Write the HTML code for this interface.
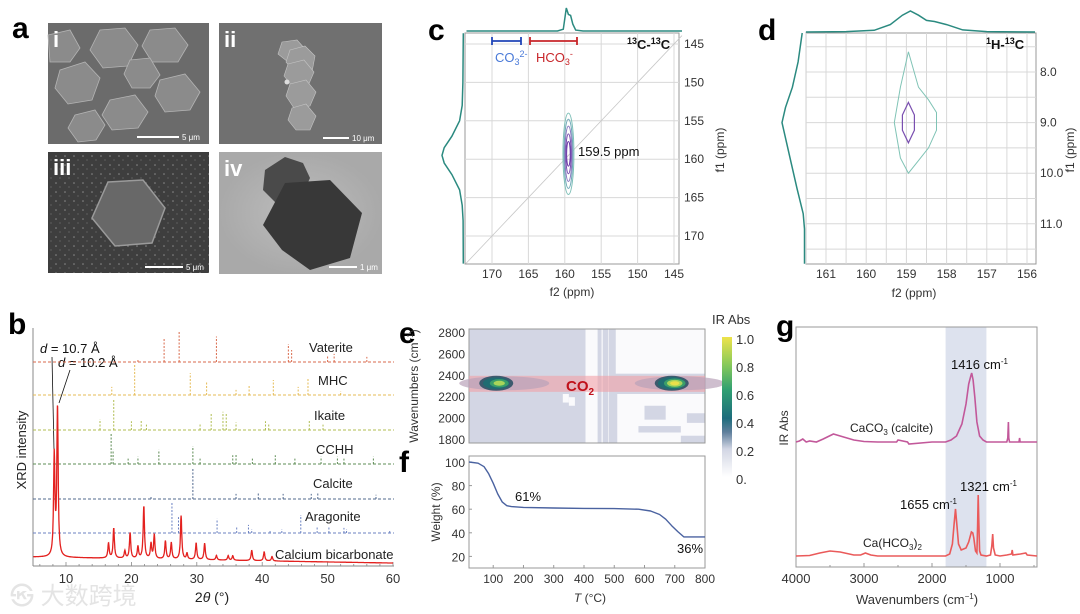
<!DOCTYPE html>
<html><head><meta charset="utf-8">
<style>
html,body{margin:0;padding:0;background:#fff;}
svg{display:block;font-family:"Liberation Sans","Noto Sans CJK SC",sans-serif;}
</style></head>
<body>
<svg id="fig" width="1080" height="614" viewBox="0 0 1080 614" xmlns="http://www.w3.org/2000/svg">
<defs>
  <linearGradient id="cbar" x1="0" y1="1" x2="0" y2="0">
    <stop offset="0" stop-color="#ffffff"/>
    <stop offset="0.2" stop-color="#d2d6e4"/>
    <stop offset="0.32" stop-color="#5f7f9c"/>
    <stop offset="0.42" stop-color="#1d6c7c"/>
    <stop offset="0.62" stop-color="#2f9f72"/>
    <stop offset="0.8" stop-color="#86c95a"/>
    <stop offset="1" stop-color="#eee34a"/>
  </linearGradient>
  <pattern id="speck" width="9" height="9" patternUnits="userSpaceOnUse">
    <rect width="9" height="9" fill="#3e3e3e"/>
    <circle cx="2" cy="3" r="0.8" fill="#8a8a8a"/>
    <circle cx="6" cy="7" r="0.6" fill="#777"/>
  </pattern>
  <radialGradient id="ivbg"><stop offset="0" stop-color="#bdbdbd"/><stop offset="1" stop-color="#a9a9a9"/></radialGradient>
</defs>

<!-- Panel a -->
<g>
  <text x="12" y="38" font-size="30" font-weight="bold">a</text>
  <g>
    <rect x="48" y="23" width="161" height="121" fill="#6b6b6b"/>
    <g fill="#8b8b8b" stroke="#b4b4b4" stroke-width="0.8">
      <polygon points="100,30 125,28 138,45 128,66 103,68 90,50"/>
      <polygon points="60,70 85,62 100,78 92,100 68,104 55,88"/>
      <polygon points="110,100 135,95 148,112 138,128 112,130 102,115"/>
      <polygon points="150,30 175,28 188,45 178,62 152,62 142,46"/>
      <polygon points="160,80 185,74 200,92 190,110 165,112 155,96"/>
      <polygon points="75,115 95,110 105,125 96,140 78,142 68,128"/>
      <polygon points="130,60 150,58 160,75 150,88 132,88 124,74"/>
      <polygon points="48,35 70,30 80,48 70,62 50,62"/>
    </g>
    <text x="53" y="47" font-size="22" font-weight="bold" fill="#fff">i</text>
    <rect x="137" y="136" width="42" height="2" fill="#fff"/>
    <text x="182" y="140" font-size="8" fill="#fff">5 μm</text>
  </g>
  <g>
    <rect x="219" y="23" width="163" height="121" fill="#707070"/>
    <g fill="#9b9b9b" stroke="#c4c4c4" stroke-width="0.6">
      <polygon points="282,42 297,40 306,50 302,62 288,62 278,54"/>
      <polygon points="290,50 305,46 315,56 312,72 296,74 286,62"/>
      <polygon points="288,64 304,60 314,72 308,86 292,86 284,76"/>
      <polygon points="290,84 306,80 316,92 310,106 294,108 286,96"/>
      <polygon points="292,108 306,104 316,116 310,130 296,130 288,120"/>
    </g>
    <circle cx="287" cy="82" r="2.5" fill="#ddd"/>
    <text x="224" y="47" font-size="22" font-weight="bold" fill="#fff">ii</text>
    <rect x="323" y="137" width="26" height="2" fill="#fff"/>
    <text x="352" y="141" font-size="8" fill="#fff">10 μm</text>
  </g>
  <g>
    <rect x="48" y="152" width="161" height="121" fill="url(#speck)"/>
    <polygon points="108,182 143,180 165,208 152,243 115,246 92,218" fill="#686868" stroke="#9a9a9a" stroke-width="1.5"/>
    <text x="53" y="175" font-size="22" font-weight="bold" fill="#fff">iii</text>
    <rect x="145" y="266" width="38" height="2" fill="#fff"/>
    <text x="186" y="270" font-size="8" fill="#fff">5 μm</text>
  </g>
  <g>
    <rect x="219" y="152" width="163" height="122" fill="url(#ivbg)"/>
    <polygon points="285,157 303,163 310,178 300,200 277,204 263,190 265,170" fill="#4a4a4a"/>
    <polygon points="285,183 330,180 362,213 350,258 310,270 282,250 263,225" fill="#383838"/>
    <text x="224" y="176" font-size="22" font-weight="bold" fill="#fff">iv</text>
    <rect x="329" y="266" width="28" height="2" fill="#fff"/>
    <text x="360" y="270" font-size="8" fill="#fff">1 μm</text>
  </g>
</g>

<!-- Panel b -->
<g id="pb">
  <text x="8" y="334" font-size="30" font-weight="bold">b</text>
  <text transform="translate(26,450) rotate(-90)" font-size="13" text-anchor="middle" fill="#222">XRD intensity</text>
  <text x="212" y="602" font-size="14" text-anchor="middle" fill="#222">2<tspan font-style="italic">θ</tspan> (°)</text>
  <text x="40" y="353" font-size="13" fill="#111"><tspan font-style="italic">d</tspan> = 10.7 Å</text>
  <text x="58" y="367" font-size="13" fill="#111"><tspan font-style="italic">d</tspan> = 10.2 Å</text>
  <line x1="52" y1="357" x2="54" y2="450" stroke="#111" stroke-width="0.8"/>
  <line x1="70" y1="370" x2="59" y2="403" stroke="#111" stroke-width="0.8"/>
</g>

<!-- Panel c -->
<g id="pc">
  <text x="428" y="40" font-size="30" font-weight="bold">c</text>
</g>
<!-- Panel d -->
<g id="pd">
  <text x="758" y="40" font-size="30" font-weight="bold">d</text>
</g>
<!-- Panel e -->
<g id="pe">
  <text x="399" y="343" font-size="30" font-weight="bold">e</text>
</g>
<!-- Panel f -->
<g id="pf">
  <text x="399" y="472" font-size="30" font-weight="bold">f</text>
</g>
<!-- Panel g -->
<g id="pg">
  <text x="776" y="336" font-size="30" font-weight="bold">g</text>
</g>

<text x="10" y="604" font-size="24" fill="#e4e4e4">㉿ 大数跨境</text>
</svg>

<script>
// ---------- DATA ----------
// b: XRD
const bicarbPos = [8.2, 8.7, 16.5, 17.3, 19.0, 19.8, 21.0, 21.9, 23.0, 23.5, 25.2, 26.1, 27.6, 28.5, 29.9, 31.2, 33.0, 34.8, 35.5, 38.4, 40.3, 41.5];
const bicarbInt = [67, 100, 10, 20, 5, 17, 8, 35, 10, 16, 12, 11, 29, 4, 11, 11, 3, 3, 3, 7, 6, 3];
const refNames = ["Vaterite", "MHC", "Ikaite", "CCHH", "Calcite", "Aragonite"];
const vateritePos = [21, 25, 27.3, 33, 44, 44.5, 50, 51, 56];
const vateriteInt = [10, 77, 100, 85, 60, 40, 20, 27, 17];
const mhcPos = [17, 20.5, 29, 31.5, 36, 38, 41.7, 45.5, 47, 52];
const mhcInt = [27, 100, 73, 43, 17, 33, 50, 27, 57, 13];
const ikaitePos = [15.2, 17.3, 20, 21.5, 22.3, 30.5, 32.2, 34, 34.5, 36, 40.5, 41, 47.2, 49.3];
const ikaiteInt = [36, 100, 29, 32, 18, 21, 57, 61, 54, 25, 29, 21, 32, 18];
const cchhPos = [16.9, 17.2, 19.5, 21, 24.2, 29.4, 30.5, 35.5, 36, 38.5, 42, 45, 49, 51.5, 52.5, 57];
const cchhInt = [100, 47, 18, 24, 47, 59, 18, 29, 35, 18, 29, 18, 24, 24, 18, 24];
const calcitePos = [23, 29.4, 36, 39.4, 43.2, 47.5, 48.5, 57.4];
const calciteInt = [10, 100, 17, 21, 17, 17, 21, 14];
const aragonitePos = [26.2, 27.2, 33.1, 36.1, 37.9, 38.4, 41.2, 43, 45.9, 48.4, 50.2, 52.5, 52.9, 59.5];
const aragoniteInt = [100, 53, 47, 20, 27, 13, 10, 13, 60, 20, 23, 17, 13, 10];
const xrdTicks = [10, 20, 30, 40, 50, 60];

// c: 13C-13C
const cTopPpm = [173.5, 165, 161, 160.2, 159.8, 159.5, 159.2, 158.9, 158.5, 157.5, 143.9];
const cTopInt = [0, 0, 0, 0.08, 1.0, 0.72, 0.68, 0.3, 0.04, 0, 0];
const cLeftPpm = [143.6, 150, 153, 155, 157, 158.5, 159.5, 160.5, 162, 164, 166, 168, 173.6];
const cLeftInt = [0.03, 0.05, 0.08, 0.2, 0.55, 0.9, 1.0, 0.9, 0.55, 0.2, 0.08, 0.04, 0.03];
const cContourRx = [0.75, 0.6, 0.48, 0.36, 0.25];
const cContourRy = [5.3, 4.5, 3.6, 2.6, 1.6];
const cTicks = [170, 165, 160, 155, 150, 145];

// d: 1H-13C
const dTopPpm = [161.5, 160.5, 159.8, 159.4, 159.1, 158.9, 158.7, 158.5, 158.3, 158.0, 157.6, 157, 155.8];
const dTopInt = [0, 0.02, 0.08, 0.35, 0.8, 1.0, 0.8, 0.55, 0.5, 0.35, 0.1, 0.02, 0];
const dLeftPpm = [7.23, 7.8, 8.3, 8.7, 9.0, 9.4, 9.8, 10.3, 10.8, 11.1, 11.79];
const dLeftInt = [0.12, 0.3, 0.55, 0.85, 1.0, 0.8, 0.6, 0.35, 0.08, 0.02, 0.02];
const dOuterF2 = [158.95, 159.15, 159.3, 159.15, 158.95, 158.7, 158.45, 158.25, 158.25, 158.45, 158.7];
const dOuterF1 = [7.6, 8.3, 9.0, 9.7, 10.0, 9.75, 9.5, 9.15, 8.8, 8.55, 8.3];
const dInnerF2 = [158.95, 159.1, 159.1, 158.95, 158.8, 158.8];
const dInnerF1 = [8.6, 8.85, 9.15, 9.4, 9.15, 8.85];
const dXTicks = [161, 160, 159, 158, 157, 156];
const dYTicks = [8.0, 9.0, 10.0, 11.0];

// e: heatmap
const eYTicks = [2800, 2600, 2400, 2200, 2000, 1800];
const blobT = [110, 690];
const blobIntensity = [0.8, 1.0];
const cbarTicks = ["1.0", "0.8", "0.6", "0.4", "0.2", "0."];

// f: TGA
const tgaT = [20, 50, 70, 85, 100, 115, 130, 145, 160, 200, 300, 400, 500, 580, 620, 650, 670, 690, 710, 730, 800];
const tgaW = [100, 99, 96, 90, 82, 73, 66, 63, 62.2, 61.5, 61, 60.7, 60.5, 60, 58.5, 55.5, 51.5, 46, 41, 36.5, 36.5];
const fXTicks = [100, 200, 300, 400, 500, 600, 700, 800];
const fYTicks = [100, 80, 60, 40, 20];

// g: IR
const calciteWn = [4000, 3950, 3900, 3850, 3800, 3700, 3600, 3450, 3300, 3150, 3000, 2800, 2520, 2500, 2360, 2340, 2000, 1800, 1720, 1640, 1560, 1500, 1460, 1430, 1416, 1395, 1370, 1340, 1300, 1250, 1200, 1000, 900, 885, 877, 870, 860, 720, 712, 705, 456];
const calciteAbs = [0, 1, 3, 0, 1, 0, 3, 8, 5, 2, 0.5, 0, 0, 2, 0, -2, 0, 0, 2, 6, 18, 38, 58, 66, 69, 62, 45, 20, 6, 2, 0, 0, 0, 4, 20, 4, 0, 0, 4, 0, 0];
const bicarbWn = [4000, 3800, 3650, 3500, 3350, 3150, 3050, 2980, 2900, 2800, 1800, 1740, 1700, 1675, 1655, 1635, 1610, 1570, 1500, 1460, 1420, 1400, 1385, 1360, 1340, 1330, 1321, 1312, 1300, 1280, 1200, 1140, 1120, 1108, 1095, 1070, 1000, 900, 830, 820, 810, 700, 620, 600, 456];
const bicarbAbs = [0, 0.5, 3, 5, 4, 1, 1, 3, 1, 0, 0, 2, 12, 32, 47, 32, 12, 6, 8, 14, 24, 23, 18, 5, 3, 30, 61, 35, 5, 1, 0, 1, 10, 22, 8, 1, 0, 1, 2, 6, 1, 2, 3, 1, 0];
const gXTicks = [4000, 3000, 2000, 1000];

// ---------- HELPERS ----------
const NS = "http://www.w3.org/2000/svg";
function mk(parent, tag, attrs) {
  const el = document.createElementNS(NS, tag);
  for (const k in attrs) el.setAttribute(k, attrs[k]);
  parent.appendChild(el);
  return el;
}
function txt(parent, x, y, s, attrs) {
  const el = mk(parent, "text", Object.assign({x: x, y: y}, attrs || {}));
  el.textContent = s;
  return el;
}
const TICKC = "#333";

// ---------- PANEL B ----------
(function () {
  const g = document.getElementById("pb");
  const xs = d => 66 + (d - 10) * 6.54;
  const X0 = 33, X1 = 394, YB = 566;
  mk(g, "line", {x1: X0, y1: YB, x2: X1, y2: YB, stroke: "#888", "stroke-width": 1});
  mk(g, "line", {x1: X0, y1: 328, x2: X0, y2: YB, stroke: "#888", "stroke-width": 1});
  for (let d = 6; d <= 60; d += 2) {
    mk(g, "line", {x1: xs(d), y1: YB, x2: xs(d), y2: YB - (d % 10 === 0 ? 4 : 2), stroke: "#888", "stroke-width": 0.8});
  }
  xrdTicks.forEach(t => {
    const el = txt(g, xs(t), 583, String(t), {"font-size": 13, "text-anchor": "middle", fill: TICKC});
    
    
  });
  const refs = [
    [vateritePos, vateriteInt, 362, "#d96a4c", 309, 352],
    [mhcPos, mhcInt, 395, "#e5bb55", 318, 385],
    [ikaitePos, ikaiteInt, 430, "#b0bd52", 314, 420],
    [cchhPos, cchhInt, 464, "#5e8c55", 316, 454],
    [calcitePos, calciteInt, 499, "#50688e", 313, 488],
    [aragonitePos, aragoniteInt, 533, "#6b82c2", 305, 521]
  ];
  refs.forEach((r, i) => {
    const grp = mk(g, "g", {});
    
    
    mk(grp, "line", {x1: X0, y1: r[2], x2: X1, y2: r[2], stroke: r[3], "stroke-width": 1, "stroke-dasharray": "3,2"});
    r[0].forEach((p, j) => {
      const h = r[1][j] * 0.3;
      const ln = mk(grp, "line", {x1: xs(p), y1: r[2], x2: xs(p), y2: r[2] - h, stroke: r[3], "stroke-width": 1, "stroke-dasharray": "2,1.5"});
      
      
    });
    const lab = txt(grp, r[4], r[5], refNames[i], {"font-size": 13, fill: "#222"});
    
    
  });
  // measured pattern
  let dstr = "";
  for (let d = 5; d <= 60.001; d += 0.04) {
    let y = 557 + (d - 5) * 0.11;
    for (let k = 0; k < bicarbPos.length; k++) {
      const w = 0.12;
      const u = (d - bicarbPos[k]) / w;
      y -= bicarbInt[k] * 1.5 / (1 + u * u);
    }
    dstr += (dstr ? "L" : "M") + xs(d).toFixed(1) + "," + y.toFixed(1);
  }
  const p = mk(g, "path", {d: dstr, fill: "none", stroke: "#e3211f", "stroke-width": 1.3});
  
  
  const lb = txt(g, 275, 559, "Calcium bicarbonate", {"font-size": 13, fill: "#222"});
  
  
})();

// ---------- PANEL C ----------
(function () {
  const g = document.getElementById("pc");
  const L = 465, R = 679, T = 33, B = 264;
  const xs = p => 492 + (170 - p) * 7.28;
  const ys = p => 44 + (p - 145) * 7.68;
  mk(g, "rect", {x: L, y: T, width: R - L, height: B - T, fill: "#fff", stroke: "#999", "stroke-width": 1});
  cTicks.forEach(t => {
    mk(g, "line", {x1: xs(t), y1: T, x2: xs(t), y2: B, stroke: "#d8d8d8", "stroke-width": 1});
    mk(g, "line", {x1: L, y1: ys(t), x2: R, y2: ys(t), stroke: "#d8d8d8", "stroke-width": 1});
    const a = txt(g, xs(t), 278, String(t), {"font-size": 12, "text-anchor": "middle", fill: TICKC});
    
    
    const b = txt(g, 684, ys(t) + 4, String(t), {"font-size": 12, fill: TICKC});
    
    
  });
  mk(g, "line", {x1: xs(173.6), y1: ys(173.6), x2: xs(143.9), y2: ys(143.9), stroke: "#c8c8c8", "stroke-width": 0.8});
  const xt = txt(g, 572, 296, "f2 (ppm)", {"font-size": 12, "text-anchor": "middle", fill: TICKC});
  
  
  const yt = txt(g, 0, 0, "f1 (ppm)", {"font-size": 12, "text-anchor": "middle", fill: TICKC, transform: "translate(724,150) rotate(-90)"});
  
  
  // projections
  let d = "";
  cTopPpm.forEach((p, i) => { d += (i ? "L" : "M") + xs(p).toFixed(1) + "," + (31 - cTopInt[i] * 23).toFixed(1); });
  const tp = mk(g, "path", {d: d, fill: "none", stroke: "#2b8a80", "stroke-width": 1.5});
  
  
  d = "";
  cLeftPpm.forEach((p, i) => { d += (i ? "L" : "M") + (464 - cLeftInt[i] * 22).toFixed(1) + "," + ys(p).toFixed(1); });
  const lp = mk(g, "path", {d: d, fill: "none", stroke: "#2b8a80", "stroke-width": 1.5});
  
  
  // contours
  const cols = ["#7fc0b8", "#6fa8b8", "#8a78c0", "#7a4fb0", "#6b3aa8"];
  cContourRx.forEach((rx, i) => {
    const e = mk(g, "ellipse", {cx: xs(159.5), cy: ys(159.3), rx: rx * 7.28, ry: cContourRy[i] * 7.68, fill: "none", stroke: cols[i], "stroke-width": 1});
    
    
  });
  const pk = txt(g, 578, 156, "159.5 ppm", {"font-size": 13, fill: "#111"});
  
  
  // bars
  mk(g, "path", {d: "M492,41H521M492,37V45M521,37V45", stroke: "#2146b8", "stroke-width": 1.8, fill: "none"});
  mk(g, "path", {d: "M530,41H577M530,37V45M577,37V45", stroke: "#c8262a", "stroke-width": 1.8, fill: "none"});
  const co3 = mk(g, "text", {x: 495, y: 62, "font-size": 13, fill: "#4a7ad8"});
  co3.innerHTML = 'CO<tspan font-size="9" dy="3">3</tspan><tspan font-size="9" dy="-8">2-</tspan>';
  
  
  const hco3 = mk(g, "text", {x: 536, y: 62, "font-size": 13, fill: "#c8262a"});
  hco3.innerHTML = 'HCO<tspan font-size="9" dy="3">3</tspan><tspan font-size="9" dy="-8">-</tspan>';
  
  
  const ti = mk(g, "text", {x: 627, y: 49, "font-size": 13, "font-weight": "bold", fill: "#111"});
  ti.innerHTML = '<tspan font-size="9" dy="-5">13</tspan><tspan dy="5">C-</tspan><tspan font-size="9" dy="-5">13</tspan><tspan dy="5">C</tspan>';
  
  
})();

// ---------- PANEL D ----------
(function () {
  const g = document.getElementById("pd");
  const L = 806, R = 1036, T = 33, B = 264;
  const xs = p => 826 + (161 - p) * 40.2;
  const ys = p => 72 + (p - 8) * 50.6;
  mk(g, "rect", {x: L, y: T, width: R - L, height: B - T, fill: "#fff", stroke: "#999", "stroke-width": 1});
  for (let p = 161.5; p >= 155.9; p -= 0.5) mk(g, "line", {x1: xs(p), y1: T, x2: xs(p), y2: B, stroke: "#d8d8d8", "stroke-width": 1});
  for (let p = 7.5; p <= 11.6; p += 0.5) mk(g, "line", {x1: L, y1: ys(p), x2: R, y2: ys(p), stroke: "#d8d8d8", "stroke-width": 1});
  dXTicks.forEach(t => {
    const a = txt(g, xs(t), 278, String(t), {"font-size": 12, "text-anchor": "middle", fill: TICKC});
    
    
  });
  dYTicks.forEach(t => {
    const b = txt(g, 1040, ys(t) + 4, t.toFixed(1), {"font-size": 12, fill: TICKC});
    
    
  });
  const xt = txt(g, 914, 297, "f2 (ppm)", {"font-size": 12, "text-anchor": "middle", fill: TICKC});
  
  
  const yt = txt(g, 0, 0, "f1 (ppm)", {"font-size": 12, "text-anchor": "middle", fill: TICKC, transform: "translate(1074,150) rotate(-90)"});
  
  
  let d = "";
  dTopPpm.forEach((p, i) => { d += (i ? "L" : "M") + xs(p).toFixed(1) + "," + (32 - dTopInt[i] * 21).toFixed(1); });
  const tp = mk(g, "path", {d: d, fill: "none", stroke: "#2b8a80", "stroke-width": 1.5});
  
  
  d = "";
  dLeftPpm.forEach((p, i) => { d += (i ? "L" : "M") + (805 - dLeftInt[i] * 23).toFixed(1) + "," + ys(p).toFixed(1); });
  const lp = mk(g, "path", {d: d, fill: "none", stroke: "#2b8a80", "stroke-width": 1.5});
  
  
  let pts = dOuterF2.map((p, i) => xs(p).toFixed(1) + "," + ys(dOuterF1[i]).toFixed(1)).join(" ");
  const oc = mk(g, "polygon", {points: pts, fill: "none", stroke: "#7fc3b5", "stroke-width": 1});
  
  
  pts = dInnerF2.map((p, i) => xs(p).toFixed(1) + "," + ys(dInnerF1[i]).toFixed(1)).join(" ");
  const ic = mk(g, "polygon", {points: pts, fill: "none", stroke: "#7a4fb0", "stroke-width": 1.2});
  
  
  const ti = mk(g, "text", {x: 986, y: 49, "font-size": 13, "font-weight": "bold", fill: "#111"});
  ti.innerHTML = '<tspan font-size="9" dy="-5">1</tspan><tspan dy="5">H-</tspan><tspan font-size="9" dy="-5">13</tspan><tspan dy="5">C</tspan>';
  
  
})();

// ---------- PANEL E ----------
(function () {
  const g = document.getElementById("pe");
  const L = 469, R = 705, T = 329, B = 443;
  const xs = t => 469 + (t - 20) * 0.3026;
  const ys = w => 333 + (2800 - w) * 0.107;
  mk(g, "rect", {x: L, y: T, width: R - L, height: B - T, fill: "#d3d6e4"});
  // white regions (below contour threshold)
  [[405, 445, T, B], [458, 462, T, B], [480, 482, T, B], [505, 800, T, ys(2420)], [510, 800, ys(2230), B]].forEach(r => {
    mk(g, "rect", {x: xs(r[0]), y: r[2], width: xs(r[1]) - xs(r[0]), height: r[3] - r[2], fill: "#fafafc"});
  });
  [[600, 670, ys(2120), ys(1990)], [580, 720, ys(1930), ys(1870)], [740, 800, ys(2050), ys(1960)], [720, 800, ys(1840), B]].forEach(r => {
    mk(g, "rect", {x: xs(r[0]), y: r[2], width: xs(r[1]) - xs(r[0]), height: r[3] - r[2], fill: "#d3d6e4"});
  });
  [[330, 350, ys(2230), ys(2150)], [350, 370, ys(2200), ys(2120)]].forEach(r => {
    mk(g, "rect", {x: xs(r[0]), y: r[2], width: xs(r[1]) - xs(r[0]), height: r[3] - r[2], fill: "#fafafc"});
  });
  mk(g, "rect", {x: L, y: T, width: R - L, height: B - T, fill: "none", stroke: "#999", "stroke-width": 1});
  // CO2 band
  const band = mk(g, "rect", {x: L, y: ys(2400), width: R - L, height: ys(2250) - ys(2400), fill: "#f2a0a6", opacity: 0.6});
  
  
  // blobs
  const levelCols = ["#a597b8", "#3d5a6e", "#1f6c72", "#3a9d6a", "#a9d45a", "#eadf4a"];
  blobT.forEach((t, i) => {
    const I = blobIntensity[i];
    const bg = mk(g, "g", {});
    
    
    mk(bg, "ellipse", {cx: xs(t) + 8, cy: ys(2330), rx: 45, ry: 7, fill: "#b9a3b9", opacity: 0.7});
    const lv = Math.round(I * 5);
    for (let k = 1; k <= lv; k++) {
      const s = 1 - (k - 1) / (lv + 0.5);
      mk(bg, "ellipse", {cx: xs(t) + (k > 2 ? 3 : 0), cy: ys(2330), rx: 17 * s, ry: 7.5 * s, fill: levelCols[k]});
    }
  });
  const co2 = mk(g, "text", {x: 566, y: 391, "font-size": 15, "font-weight": "bold", fill: "#c0111b"});
  co2.innerHTML = 'CO<tspan font-size="10" dy="4">2</tspan>';
  
  
  eYTicks.forEach(w => {
    const a = txt(g, 465, ys(w) + 4, String(w), {"font-size": 12, "text-anchor": "end", fill: TICKC});
    
    
  });
  const yt = mk(g, "text", {x: 0, y: 0, "font-size": 12, "text-anchor": "middle", fill: TICKC, transform: "translate(418,386) rotate(-90)"});
  yt.innerHTML = 'Wavenumbers (cm<tspan font-size="8" dy="-5">−1</tspan><tspan dy="5">)</tspan>';
  
  
  // colorbar
  const cb = mk(g, "rect", {x: 722, y: 337, width: 10, height: 140, fill: "url(#cbar)"});
  
  
  cbarTicks.forEach((s, i) => {
    const a = txt(g, 736, 344 + i * 28, s, {"font-size": 13, fill: TICKC});
    
    
  });
  const ct = txt(g, 712, 324, "IR Abs", {"font-size": 13, fill: TICKC});
  
  
})();

// ---------- PANEL F ----------
(function () {
  const g = document.getElementById("pf");
  const L = 469, R = 705, T = 456, B = 568;
  const xs = t => 469 + (t - 20) * 0.3026;
  const ys = w => 462 + (100 - w) * 1.18;
  mk(g, "rect", {x: L, y: T, width: R - L, height: B - T, fill: "#fff", stroke: "#999", "stroke-width": 1});
  fXTicks.forEach(t => {
    mk(g, "line", {x1: xs(t), y1: B, x2: xs(t), y2: B - 3, stroke: "#999"});
    const a = txt(g, xs(t), 583, String(t), {"font-size": 12, "text-anchor": "middle", fill: TICKC});
    
    
  });
  fYTicks.forEach(w => {
    mk(g, "line", {x1: L, y1: ys(w), x2: L + 3, y2: ys(w), stroke: "#999"});
    const a = txt(g, 465, ys(w) + 5, String(w), {"font-size": 12, "text-anchor": "end", fill: TICKC});
    
    
  });
  let d = "";
  tgaT.forEach((t, i) => { d += (i ? "L" : "M") + xs(t).toFixed(1) + "," + ys(tgaW[i]).toFixed(1); });
  const p = mk(g, "path", {d: d, fill: "none", stroke: "#4a62a0", "stroke-width": 1.4, "stroke-linejoin": "round"});
  
  
  const a1 = txt(g, 515, 501, "61%", {"font-size": 13, fill: "#111"});
  
  
  const a2 = txt(g, 677, 553, "36%", {"font-size": 13, fill: "#111"});
  
  
  const yt = txt(g, 0, 0, "Weight (%)", {"font-size": 12, "text-anchor": "middle", fill: TICKC, transform: "translate(440,512) rotate(-90)"});
  
  
  const xt = mk(g, "text", {x: 590, y: 602, "font-size": 12, "text-anchor": "middle", fill: TICKC});
  xt.innerHTML = '<tspan font-style="italic">T</tspan> (°C)';
  
  
})();

// ---------- PANEL G ----------
(function () {
  const g = document.getElementById("pg");
  const L = 796, R = 1037, T = 327, B = 567;
  const xs = w => 796 + (4000 - w) * 0.068;
  const sh = mk(g, "rect", {x: xs(1800), y: T, width: xs(1200) - xs(1800), height: B - T, fill: "#dde2ee"});
  
  
  mk(g, "rect", {x: L, y: T, width: R - L, height: B - T, fill: "none", stroke: "#999", "stroke-width": 1});
  for (let w = 4000; w >= 500; w -= 500) mk(g, "line", {x1: xs(w), y1: B, x2: xs(w), y2: B - (w % 1000 === 0 ? 4 : 2), stroke: "#999"});
  gXTicks.forEach(w => {
    const a = txt(g, xs(w), 583, String(w), {"font-size": 13, "text-anchor": "middle", fill: TICKC});
    
    
  });
  let d = "";
  calciteWn.forEach((w, i) => { d += (i ? "L" : "M") + xs(w).toFixed(1) + "," + (442 - calciteAbs[i]).toFixed(1); });
  const p1 = mk(g, "path", {d: d, fill: "none", stroke: "#c2589a", "stroke-width": 1.6});
  
  
  d = "";
  bicarbWn.forEach((w, i) => { d += (i ? "L" : "M") + xs(w).toFixed(1) + "," + (556 - bicarbAbs[i]).toFixed(1); });
  const p2 = mk(g, "path", {d: d, fill: "none", stroke: "#ea5a5a", "stroke-width": 1.6});
  
  
  const l1 = mk(g, "text", {x: 850, y: 432, "font-size": 12, fill: "#222"});
  l1.innerHTML = 'CaCO<tspan font-size="8" dy="3">3</tspan><tspan dy="-3"> (calcite)</tspan>';
  
  
  const l2 = mk(g, "text", {x: 863, y: 547, "font-size": 12, fill: "#222"});
  l2.innerHTML = 'Ca(HCO<tspan font-size="8" dy="3">3</tspan><tspan dy="-3">)</tspan><tspan font-size="8" dy="3">2</tspan>';
  
  
  [[951, 369, "1416"], [900, 509, "1655"], [960, 491, "1321"]].forEach(a => {
    const t = mk(g, "text", {x: a[0], y: a[1], "font-size": 13, fill: "#111"});
    t.innerHTML = a[2] + ' cm<tspan font-size="8" dy="-5">-1</tspan>';
    
    
  });
  const yt = txt(g, 0, 0, "IR Abs", {"font-size": 12, "text-anchor": "middle", fill: TICKC, transform: "translate(788,428) rotate(-90)"});
  
  
  const xt = mk(g, "text", {x: 917, y: 604, "font-size": 13, "text-anchor": "middle", fill: TICKC});
  xt.innerHTML = 'Wavenumbers (cm<tspan font-size="8" dy="-5">−1</tspan><tspan dy="5">)</tspan>';
  
  
})();
</script>
</body></html>
